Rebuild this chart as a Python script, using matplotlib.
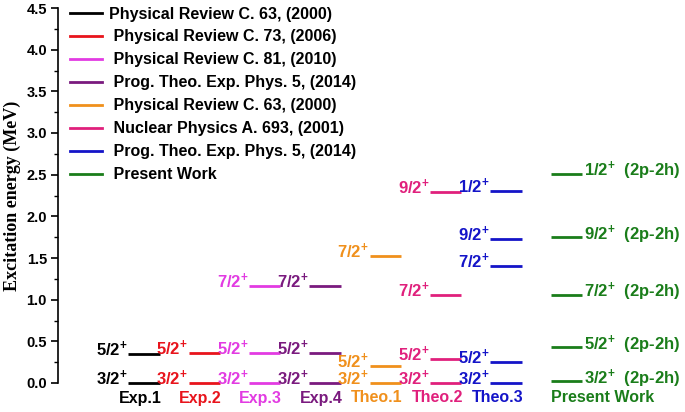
import matplotlib
matplotlib.use("Agg")
import matplotlib.pyplot as plt
from matplotlib.lines import Line2D

plt.rcParams['font.family'] = ['Liberation Sans', 'DejaVu Sans']
plt.rcParams['font.weight'] = 'bold'
plt.rcParams['mathtext.fontset'] = 'custom'
plt.rcParams['mathtext.rm'] = 'Liberation Sans:bold'
plt.rcParams['mathtext.bf'] = 'Liberation Sans:bold'
plt.rcParams['mathtext.it'] = 'Liberation Sans:bold'
plt.rcParams['mathtext.default'] = 'bf'

# ---- data ----
columns = ['Exp.1', 'Exp.2', 'Exp.3', 'Exp.4', 'Theo.1', 'Theo.2', 'Theo.3', 'Present Work']
references = ['Physical Review C. 63, (2000)', ' Physical Review C. 73, (2006)',
              ' Physical Review C. 81, (2010)', ' Prog. Theo. Exp. Phys. 5, (2014)',
              ' Physical Review C. 63, (2000)', ' Nuclear Physics A. 693, (2001)',
              ' Prog. Theo. Exp. Phys. 5, (2014)', ' Present Work']
colors = ['#000000', '#e8141c', '#e23be2', '#7a1a7e', '#f0901c', '#e0207c', '#1414c8', '#1a7d1a']

exp1_J = ['3/2', '5/2'];               exp1_E = [0.0, 0.35]
exp2_J = ['3/2', '5/2'];               exp2_E = [0.0, 0.36]
exp3_J = ['3/2', '5/2', '7/2'];        exp3_E = [0.0, 0.36, 1.16]
exp4_J = ['3/2', '5/2', '7/2'];        exp4_E = [0.0, 0.36, 1.16]
theo1_J = ['3/2', '5/2', '7/2'];       theo1_E = [0.0, 0.20, 1.53]
theo2_J = ['3/2', '5/2', '7/2', '9/2']; theo2_E = [0.0, 0.29, 1.06, 2.29]
theo3_J = ['3/2', '5/2', '7/2', '9/2', '1/2']; theo3_E = [0.0, 0.25, 1.41, 1.73, 2.31]
pw_J = ['3/2', '5/2', '7/2', '9/2', '1/2'];    pw_E = [0.02, 0.43, 1.06, 1.75, 2.51]

spins = [exp1_J, exp2_J, exp3_J, exp4_J, theo1_J, theo2_J, theo3_J, pw_J]
energies = [exp1_E, exp2_E, exp3_E, exp4_E, theo1_E, theo2_E, theo3_E, pw_E]
yticks = [0.0, 0.5, 1.0, 1.5, 2.0, 2.5, 3.0, 3.5, 4.0, 4.5]

# ---- figure ----
fig = plt.figure(figsize=(6.85, 4.12), dpi=100)
ax = fig.add_axes([58/685, 29/412, 1 - 58/685, 375/412])
ax.set_xlim(-1.426, 8.97)
ax.set_ylim(0, 4.5)

hw = 0.26
for i, (J, E, c) in enumerate(zip(spins, energies, colors)):
    for j, e in zip(J, E):
        ax.plot([i - hw, i + hw], [e, e], color=c, lw=2, solid_capstyle='butt', clip_on=False)
        if i < len(columns) - 1:
            ax.text(i - hw - 0.01, e - 0.025, j + r'$^{+}$', color=c, fontsize=12,
                    ha='right', va='baseline', clip_on=False)
        else:
            ax.text(i + hw + 0.04, e - 0.03, j + r'$^{+}$  (2p-2h)', color=c, fontsize=12,
                    ha='left', va='baseline', clip_on=False)
    if i < len(columns) - 1:
        ax.text(i + hw + 0.03, -0.09, columns[i], color=c, fontsize=11.5,
                ha='right', va='top', clip_on=False)
    else:
        ax.text(i - hw, -0.09, columns[i], color=c, fontsize=11.5,
                ha='left', va='top', clip_on=False)

handles = [Line2D([0], [0], color=c, lw=2) for c in colors]
ax.legend(handles, references, loc='upper left', bbox_to_anchor=(0.0096, 1.021),
          frameon=False, fontsize=11.5, handlelength=2.0, handletextpad=0.4,
          labelspacing=0.5, borderaxespad=0.0)

for s in ['top', 'right', 'bottom']:
    ax.spines[s].set_visible(False)
ax.spines['left'].set_linewidth(1.2)
ax.set_xticks([])
ax.set_yticks(yticks)
ax.set_yticklabels([f'{v:.1f}' for v in yticks])
ax.set_yticks([v + 0.25 for v in yticks[:-1]], minor=True)
ax.tick_params(axis='y', which='major', length=5, width=1.2, labelsize=10.5, pad=3)
ax.tick_params(axis='y', which='minor', length=3, width=1.0)
for t in ax.get_yticklabels():
    t.set_fontweight('bold')
ax.set_ylabel('Excitation energy (MeV)', family=['Liberation Serif'], fontweight='bold',
              fontsize=13, labelpad=4)

fig.savefig('out.png', dpi=100)
